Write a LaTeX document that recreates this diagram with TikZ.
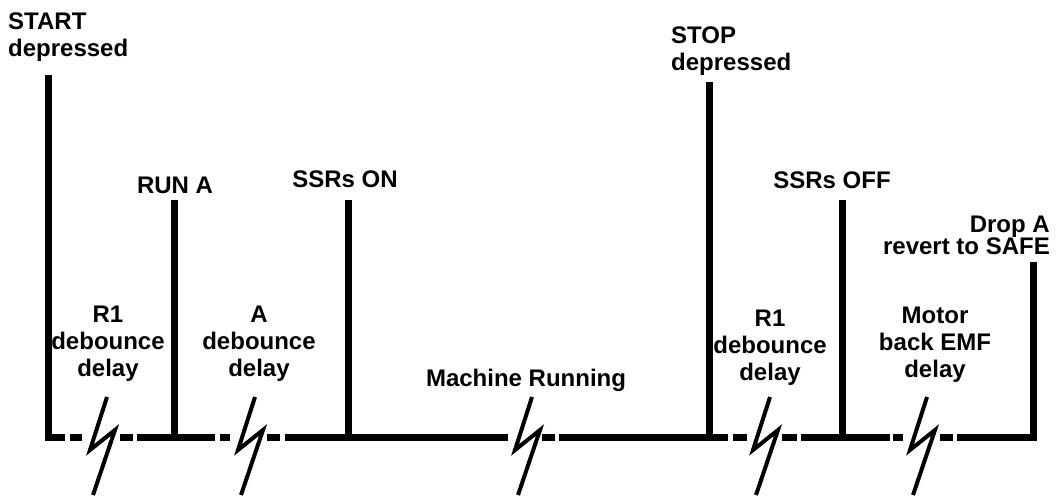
\documentclass[tikz,border=0pt]{standalone}
\usepackage{fontspec}
\setmainfont{Liberation Sans}
\usepackage{tikz}

\tikzset{
  lbl/.style={font=\bfseries\fontsize{24}{27}\selectfont, inner sep=0pt, align=center},
  tick/.style={line width=7pt},
  axis/.style={line width=7pt},
  brk/.pic={\draw[line width=4pt] (5,-40) -- (-12,13) -- (13,-7) -- (-9,58);}
}

\begin{document}
\begin{tikzpicture}[x=1pt, y=-1pt]
  \useasboundingbox (0,0) rectangle (1056,497);

  % event ticks
  \foreach \n/\x/\t in {start/48/75, runA/174/200, ssrOn/348/200,
                        stop/709/82, ssrOff/842/200, dropA/1033/262} {
    \coordinate (\n) at (\x,437);
    \coordinate (\n Top) at (\x,\t);
    \draw[tick] (\n) -- (\n Top);
  }

  % time line, broken
  \foreach \a/\b in {44.5/65, 70/82, 120/133, 137/174,
                     174/215, 220/230, 267/280, 285/348,
                     348/508, 542/555, 559/709,
                     709/728, 733/747, 782/797, 801/842,
                     842/890, 893/903, 940/953, 957/1036.5}
    \draw[axis] (\a,437) -- (\b,437);

  \foreach \x [count=\i] in {102, 250, 527, 765, 922}
    \pic (brk\i) at (\x,437) {brk};

  % labels
  \node[lbl, align=left, anchor=north west] (startLbl) at (8,13) {START\\depressed};
  \node[lbl, anchor=north] (runALbl) at (175,177) {RUN A};
  \node[lbl, anchor=north] (ssrOnLbl) at (345,171) {SSRs ON};
  \node[lbl, align=left, anchor=north west] (stopLbl) at (671,27) {STOP\\depressed};
  \node[lbl, anchor=north] (ssrOffLbl) at (832,172) {SSRs OFF};
  \node[lbl, align=right, anchor=north east, font=\bfseries\fontsize{24}{22}\selectfont]
    (dropALbl) at (1050,216) {Drop A\\revert to SAFE};

  \node[lbl, anchor=north] (r1Lbl) at (108,306) {R1\\debounce\\delay};
  \node[lbl, anchor=north] (aLbl) at (259,306) {A\\debounce\\delay};
  \node[lbl, anchor=north] (runLbl) at (526,369) {Machine Running};
  \node[lbl, anchor=north] (r1bLbl) at (770,310) {R1\\debounce\\delay};
  \node[lbl, anchor=north] (emfLbl) at (935,307) {Motor\\back EMF\\delay};
\end{tikzpicture}
\end{document}
